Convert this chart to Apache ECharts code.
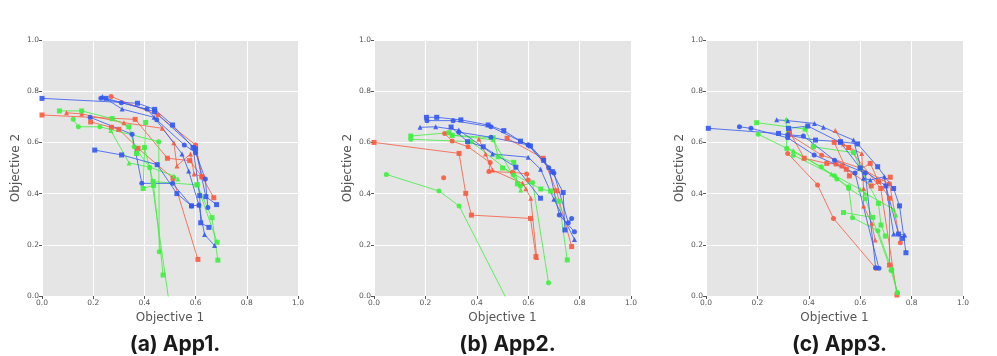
<!DOCTYPE html>
<html>
<head>
<meta charset="utf-8">
<script src="https://cdn.jsdelivr.net/npm/echarts@6/dist/echarts.min.js"></script>
<style>
  html, body { margin: 0; padding: 0; background: #fff; }
  #main { width: 997px; height: 356px; }
</style>
</head>
<body>
<div id="main"></div>
<script>
// panel titles and axis ticks
var panelTitles = ['(a) App1.', '(b) App2.', '(c) App3.'];
var tickValues = [0, 0.2, 0.4, 0.6, 0.8, 1.0];

// App1 runs  [objective 1, objective 2]
var app1Blue = [
  [[0, 0.772], [0.373, 0.753], [0.44, 0.729], [0.51, 0.668], [0.59, 0.58], [0.616, 0.392], [0.62, 0.286], [0.652, 0.268]],
  [[0.23, 0.772], [0.31, 0.755], [0.41, 0.73], [0.448, 0.688], [0.556, 0.59], [0.6, 0.56], [0.638, 0.457], [0.648, 0.346]],
  [[0.236, 0.779], [0.313, 0.73], [0.438, 0.698], [0.547, 0.555], [0.573, 0.488], [0.613, 0.355], [0.635, 0.24], [0.674, 0.197]],
  [[0.25, 0.772], [0.44, 0.72], [0.6, 0.575], [0.64, 0.388], [0.682, 0.357]],
  [[0.188, 0.698], [0.352, 0.632], [0.39, 0.44], [0.51, 0.44], [0.584, 0.352], [0.613, 0.355]],
  [[0.206, 0.57], [0.311, 0.551], [0.45, 0.513], [0.527, 0.40], [0.584, 0.352]]
];
var app1Red = [
  [[0, 0.707], [0.364, 0.69], [0.49, 0.538], [0.577, 0.529], [0.625, 0.466], [0.671, 0.384]],
  [[0.27, 0.779], [0.453, 0.707], [0.6, 0.59], [0.625, 0.466]],
  [[0.096, 0.716], [0.155, 0.711], [0.32, 0.677], [0.47, 0.655], [0.515, 0.599], [0.527, 0.508], [0.58, 0.555], [0.594, 0.477], [0.625, 0.466]],
  [[0.19, 0.68], [0.271, 0.659], [0.30, 0.651], [0.375, 0.577], [0.512, 0.46], [0.609, 0.143]]
];
var app1Green = [
  [[0.068, 0.723], [0.155, 0.723], [0.274, 0.693], [0.339, 0.661], [0.369, 0.557], [0.40, 0.58], [0.434, 0.447], [0.606, 0.434], [0.664, 0.306], [0.687, 0.14]],
  [[0.122, 0.69], [0.142, 0.661], [0.226, 0.661], [0.456, 0.603], [0.458, 0.173]],
  [[0.269, 0.646], [0.34, 0.52], [0.421, 0.503], [0.516, 0.469], [0.531, 0.457]],
  [[0.405, 0.678], [0.395, 0.42], [0.436, 0.432], [0.473, 0.082]],
  [[0.36, 0.583], [0.421, 0.503], [0.50, -0.05]],
  [[0.606, 0.434], [0.684, 0.21]]
];

// App2 runs
var app2Blue = [
  [[0.204, 0.698], [0.244, 0.698], [0.338, 0.688], [0.444, 0.668], [0.505, 0.646], [0.57, 0.605], [0.609, 0.586], [0.66, 0.53], [0.694, 0.486], [0.736, 0.404], [0.743, 0.258]],
  [[0.206, 0.685], [0.308, 0.685], [0.455, 0.661], [0.6, 0.59], [0.68, 0.501], [0.721, 0.316], [0.78, 0.251]],
  [[0.179, 0.659], [0.24, 0.661], [0.33, 0.648], [0.461, 0.555], [0.6, 0.542], [0.648, 0.495], [0.7, 0.378], [0.78, 0.221]],
  [[0.30, 0.66], [0.364, 0.603], [0.425, 0.583], [0.552, 0.503], [0.648, 0.382]],
  [[0.33, 0.64], [0.455, 0.62], [0.6, 0.59], [0.70, 0.48], [0.756, 0.286], [0.769, 0.303]]
];
var app2Red = [
  [[0, 0.60], [0.331, 0.557], [0.357, 0.401], [0.379, 0.316], [0.609, 0.303], [0.63, 0.154]],
  [[0.275, 0.635], [0.304, 0.605], [0.366, 0.583], [0.452, 0.521], [0.447, 0.486], [0.539, 0.483], [0.594, 0.477], [0.60, 0.453]],
  [[0.408, 0.613], [0.434, 0.555], [0.461, 0.492], [0.578, 0.44], [0.591, 0.419], [0.61, 0.382], [0.633, 0.15]],
  [[0.518, 0.616], [0.658, 0.538], [0.71, 0.411], [0.769, 0.193]],
  [[0.271, 0.462]]
];
var app2Green = [
  [[0.143, 0.625], [0.292, 0.638], [0.304, 0.628], [0.464, 0.618], [0.483, 0.544], [0.544, 0.522], [0.558, 0.438]],
  [[0.143, 0.612], [0.379, 0.603], [0.542, 0.473], [0.57, 0.43], [0.617, 0.443], [0.679, 0.052]],
  [[0.304, 0.628], [0.464, 0.61], [0.571, 0.414]],
  [[0.50, 0.50], [0.649, 0.418], [0.687, 0.41], [0.72, 0.37], [0.752, 0.141]],
  [[0.048, 0.475], [0.253, 0.41], [0.331, 0.352], [0.52, -0.02]]
];

// App3 runs
var app3Blue = [
  [[0.009, 0.655], [0.282, 0.635], [0.426, 0.609], [0.523, 0.603], [0.59, 0.594], [0.668, 0.505], [0.73, 0.42], [0.753, 0.352], [0.778, 0.169]],
  [[0.13, 0.661], [0.175, 0.655], [0.318, 0.618], [0.421, 0.551], [0.58, 0.48], [0.673, 0.108]],
  [[0.275, 0.688], [0.318, 0.685], [0.422, 0.674], [0.457, 0.659], [0.574, 0.609], [0.613, 0.46], [0.639, 0.453], [0.694, 0.466], [0.73, 0.242], [0.773, 0.238]],
  [[0.321, 0.655], [0.396, 0.664], [0.523, 0.60], [0.60, 0.50], [0.70, 0.43], [0.749, 0.242], [0.765, 0.225]],
  [[0.318, 0.63], [0.379, 0.625], [0.50, 0.53], [0.62, 0.48], [0.66, 0.11]]
];
var app3Red = [
  [[0.325, 0.642], [0.382, 0.538], [0.47, 0.518], [0.506, 0.516], [0.529, 0.508], [0.546, 0.495], [0.643, 0.43], [0.717, 0.464]],
  [[0.318, 0.557], [0.434, 0.434], [0.496, 0.303], [0.661, 0.108]],
  [[0.503, 0.646], [0.535, 0.594], [0.555, 0.58], [0.606, 0.557], [0.613, 0.42], [0.613, 0.352], [0.645, 0.284], [0.658, 0.219]],
  [[0.499, 0.60], [0.558, 0.469], [0.639, 0.518], [0.671, 0.447], [0.714, 0.382], [0.714, 0.121]],
  [[0.325, 0.63], [0.45, 0.55], [0.60, 0.50], [0.714, 0.438], [0.756, 0.208]],
  [[0.555, 0.58], [0.68, 0.42], [0.743, 0.004]]
];
var app3Green = [
  [[0.197, 0.677], [0.386, 0.652], [0.418, 0.583], [0.574, 0.56], [0.60, 0.50], [0.671, 0.362], [0.681, 0.277], [0.698, 0.234]],
  [[0.203, 0.632], [0.314, 0.577], [0.449, 0.505], [0.509, 0.457], [0.555, 0.427], [0.57, 0.306], [0.669, 0.255], [0.723, 0.104], [0.745, 0.013]],
  [[0.312, 0.69], [0.314, 0.577], [0.34, 0.568], [0.488, 0.477], [0.60, 0.417], [0.619, 0.401], [0.73, 0.339], [0.739, 0.316]],
  [[0.535, 0.326], [0.649, 0.307]],
  [[0.34, 0.55], [0.50, 0.47], [0.555, 0.42], [0.62, 0.38], [0.72, 0.10], [0.745, 0.013]]
];

var panels = [
  { blue: app1Blue, red: app1Red, green: app1Green, left: 42, width: 256 },
  { blue: app2Blue, red: app2Red, green: app2Green, left: 374, width: 257 },
  { blue: app3Blue, red: app3Red, green: app3Green, left: 706, width: 257 }
];
var colors = { red: '#f85a3e', green: '#3def3d', blue: '#3358f0' };
var shapes = ['rect', 'circle', 'triangle', 'rect', 'circle'];

var chart = echarts.init(document.getElementById('main'), null, { renderer: 'canvas' });

var grids = [], xAxes = [], yAxes = [], series = [], titles = [];
panels.forEach(function (p, i) {
  grids.push({
    left: p.left, top: 40, width: p.width, height: 256,
    show: true, backgroundColor: '#e5e5e5', borderWidth: 0
  });
  xAxes.push({
    gridIndex: i, type: 'value', min: 0, max: 1, interval: 0.2,
    name: 'Objective 1', nameLocation: 'middle', nameGap: 15,
    nameTextStyle: { fontSize: 12, color: '#555', fontFamily: 'DejaVu Sans' },
    axisLine: { show: false },
    axisTick: { show: true, length: 3, lineStyle: { color: '#555' } },
    axisLabel: { fontSize: 7.5, color: '#555', margin: 3, fontFamily: 'DejaVu Sans',
      formatter: function (v) { return v.toFixed(1); } },
    splitLine: { lineStyle: { color: '#fff', width: 1 } }
  });
  yAxes.push({
    gridIndex: i, type: 'value', min: 0, max: 1, interval: 0.2,
    name: 'Objective 2', nameLocation: 'middle', nameGap: 20,
    nameTextStyle: { fontSize: 12, color: '#555', fontFamily: 'DejaVu Sans' },
    axisLine: { show: false },
    axisTick: { show: true, length: 3, lineStyle: { color: '#555' } },
    axisLabel: { fontSize: 7.5, color: '#555', margin: 3, fontFamily: 'DejaVu Sans',
      formatter: function (v) { return v.toFixed(1); } },
    splitLine: { lineStyle: { color: '#fff', width: 1 } }
  });
  titles.push({
    text: panelTitles[i],
    left: p.left + p.width / 2, top: 329, textAlign: 'center',
    textStyle: { fontSize: 21, fontWeight: 'bold', color: '#1a1a1a', fontFamily: 'Inter' }
  });
  ['red', 'green', 'blue'].forEach(function (c) {
    p[c].forEach(function (run, k) {
      series.push({
        type: 'line', xAxisIndex: i, yAxisIndex: i,
        data: run, clip: true, silent: true, animation: false,
        symbol: shapes[k % shapes.length], symbolSize: 5, showAllSymbol: true,
        lineStyle: { color: colors[c], width: 1, opacity: 0.8 },
        itemStyle: { color: colors[c], opacity: 0.9 }
      });
    });
  });
});

chart.setOption({
  animation: false,
  title: titles,
  grid: grids,
  xAxis: xAxes,
  yAxis: yAxes,
  series: series
});
</script>
</body>
</html>
